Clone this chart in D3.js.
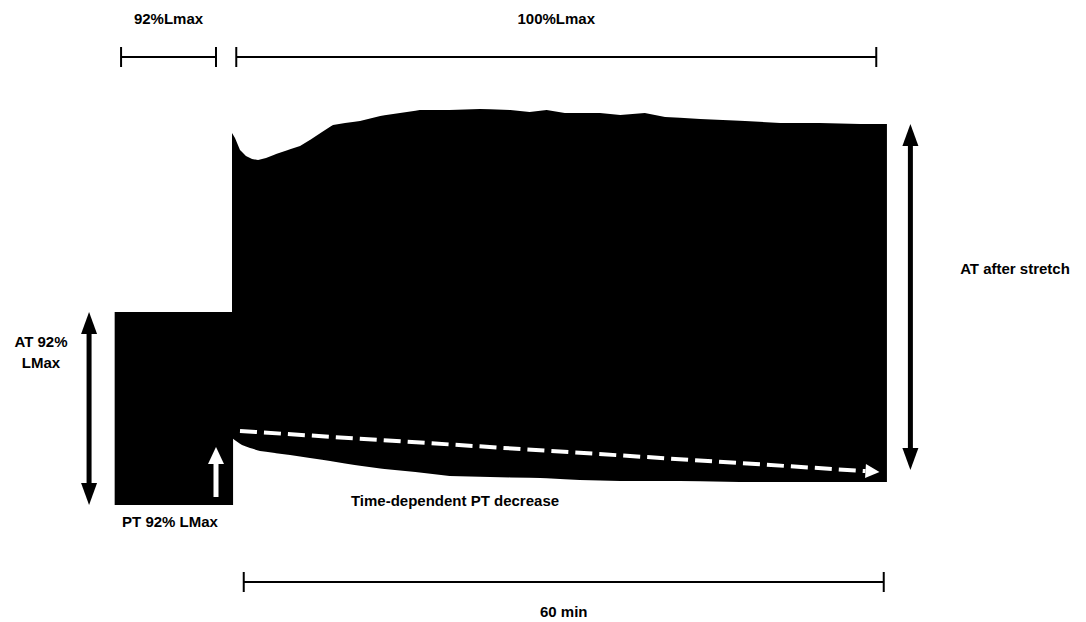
<!DOCTYPE html>
<html>
<head>
<meta charset="utf-8">
<script src="https://cdn.jsdelivr.net/npm/d3@7"></script>
<style>
  html, body { margin: 0; padding: 0; background: #fff; }
  svg text { font-family: "Liberation Sans", Arial, sans-serif; font-weight: bold; fill: #000; }
</style>
</head>
<body>
<svg id="chart" width="1086" height="622"></svg>
<script>
// Force trace: time in minutes (0 = stretch to 100% Lmax), force in mN
const preStretchStart = -11.0;     // start of the 92% Lmax recording
const preStretchAT = 19.3;         // active tension at 92% Lmax
const preStretchPT = 0.0;          // passive tension at 92% Lmax

// Upper envelope (active tension) after the stretch
const topTime  = [0, 0.28, 0.75, 1.31, 1.88, 2.44, 3.19, 4.13, 5.25, 6.38, 7.31, 8.44, 9.47, 10.6, 12.0, 13.9, 15.75, 17.6, 20.4, 23.25, 26.1, 27.9, 29.5, 31.2, 34.5, 36.4, 38.7, 40.6, 43.9, 48.1, 51.4, 55.1, 58.9, 61.4];
const topForce = [37.2, 36.7, 35.5, 34.9, 34.6, 34.5, 34.7, 35.1, 35.5, 35.9, 36.5, 37.3, 38.0, 38.2, 38.4, 38.9, 39.2, 39.5, 39.5, 39.6, 39.5, 39.3, 39.5, 39.2, 39.2, 39.0, 39.2, 38.8, 38.6, 38.4, 38.2, 38.2, 38.1, 38.1];

// Lower envelope (passive tension) after the stretch
const botTime  = [0, 0.38, 0.94, 1.69, 2.63, 4.03, 5.44, 7.3, 9.2, 11.5, 14.3, 17.2, 20.4, 24.2, 28.9, 32.6, 36.4, 42.0, 47.6, 53.3, 61.4];
const botForce = [6.7, 6.4, 6.0, 5.7, 5.4, 5.2, 5.0, 4.7, 4.4, 4.0, 3.6, 3.3, 2.9, 2.8, 2.7, 2.5, 2.4, 2.4, 2.3, 2.3, 2.3];

// Segment markers above the trace and the time bar below it
const segments = [
  { label: "92%Lmax",  from: -10.4, to: -1.5 },
  { label: "100%Lmax", from: 0.4,   to: 60.4 }
];
const timeBar = { label: "60 min", from: 1.1, to: 61.1 };

// PT trend line drawn over the trace
const trendTime  = [0.75, 60.7];
const trendForce = [7.4, 3.3];

const svg = d3.select("#chart");

const x = d3.scaleLinear().domain([0, 60]).range([232, 872]);
const y = d3.scaleLinear().domain([0, 40]).range([505, 105]);

// ---- trace ----
const pre = [
  { t: preStretchStart, lo: preStretchPT, hi: preStretchAT },
  { t: 0.1,             lo: preStretchPT, hi: preStretchAT }
];
svg.append("path")
  .datum(pre)
  .attr("fill", "#000")
  .attr("d", d3.area().x(d => x(d.t)).y0(d => y(d.lo)).y1(d => y(d.hi)));

// merge both envelopes on a common time grid
const grid = Array.from(new Set(topTime.concat(botTime))).sort((a, b) => a - b);
const topAt = t => d3.scaleLinear().domain(topTime).range(topForce)(t);
const botAt = t => d3.scaleLinear().domain(botTime).range(botForce)(t);
const post = grid.map(t => ({ t, lo: botAt(t), hi: topAt(t) }));
svg.append("path")
  .datum(post)
  .attr("fill", "#000")
  .attr("d", d3.area().x(d => x(d.t)).y0(d => y(d.lo)).y1(d => y(d.hi)));

// ---- segment brackets ----
function bracket(x0, x1, yy, h) {
  const g = svg.append("g").attr("stroke", "#000").attr("stroke-width", 2).attr("fill", "none");
  g.append("line").attr("x1", x0).attr("x2", x1).attr("y1", yy).attr("y2", yy);
  g.append("line").attr("x1", x0).attr("x2", x0).attr("y1", yy - h).attr("y2", yy + h);
  g.append("line").attr("x1", x1).attr("x2", x1).attr("y1", yy - h).attr("y2", yy + h);
}
segments.forEach(s => {
  bracket(x(s.from), x(s.to), 57, 10);
  svg.append("text")
    .attr("x", (x(s.from) + x(s.to)) / 2)
    .attr("y", 24)
    .attr("text-anchor", "middle")
    .style("font-size", "15px")
    .text(s.label);
});
bracket(x(timeBar.from), x(timeBar.to), 582, 10);
svg.append("text")
  .attr("x", (x(timeBar.from) + x(timeBar.to)) / 2)
  .attr("y", 617)
  .attr("text-anchor", "middle")
  .style("font-size", "15px")
  .text(timeBar.label);

// ---- double-headed arrows ----
function doubleArrow(xx, yTop, yBot, color) {
  const hw = 8, hl = 22;
  svg.append("line")
    .attr("x1", xx).attr("x2", xx)
    .attr("y1", yTop + hl - 2).attr("y2", yBot - hl + 2)
    .attr("stroke", color).attr("stroke-width", 5);
  svg.append("path").attr("fill", color)
    .attr("d", `M${xx},${yTop} L${xx - hw},${yTop + hl} L${xx + hw},${yTop + hl} Z`);
  svg.append("path").attr("fill", color)
    .attr("d", `M${xx},${yBot} L${xx - hw},${yBot - hl} L${xx + hw},${yBot - hl} Z`);
}
// AT at 92% Lmax spans the pre-stretch block
doubleArrow(x(-13.4), y(preStretchAT), y(preStretchPT), "#000");
// AT after stretch spans the full post-stretch trace
doubleArrow(x(63.6), y(topForce[topForce.length - 1]), y(3.5), "#000");

// ---- white arrow marking PT at 92% Lmax ----
{
  const xx = x(-1.5), yTip = y(5.8), yBase = y(0.8);
  svg.append("line")
    .attr("x1", xx).attr("x2", xx).attr("y1", yTip + 14).attr("y2", yBase)
    .attr("stroke", "#fff").attr("stroke-width", 5);
  svg.append("path").attr("fill", "#fff")
    .attr("d", `M${xx},${yTip} L${xx - 8},${yTip + 17} L${xx + 8},${yTip + 17} Z`);
}

// ---- dashed PT trend arrow ----
{
  const x0 = x(trendTime[0]), y0 = y(trendForce[0]);
  const x1 = x(trendTime[1]), y1 = y(trendForce[1]);
  const ang = Math.atan2(y1 - y0, x1 - x0);
  const hl = 14;
  const xe = x1 - hl * Math.cos(ang), ye = y1 - hl * Math.sin(ang);
  svg.append("line")
    .attr("x1", x0).attr("y1", y0).attr("x2", xe).attr("y2", ye)
    .attr("stroke", "#fff").attr("stroke-width", 4)
    .attr("stroke-dasharray", "17 7");
  const px = -Math.sin(ang) * 7, py = Math.cos(ang) * 7;
  svg.append("path").attr("fill", "#fff")
    .attr("d", `M${x1},${y1} L${xe + px},${ye + py} L${xe - px},${ye - py} Z`);
}

// ---- annotations ----
const notes = [
  { text: ["AT 92%", "LMax"], x: 41, y: 347 },
  { text: ["PT 92% LMax"], x: 170, y: 527 },
  { text: ["Time-dependent PT decrease"], x: 455, y: 506 },
  { text: ["AT after stretch"], x: 1015, y: 274 }
];
notes.forEach(n => {
  const t = svg.append("text")
    .attr("x", n.x).attr("y", n.y)
    .attr("text-anchor", "middle")
    .style("font-size", "15px");
  n.text.forEach((line, i) => {
    t.append("tspan").attr("x", n.x).attr("dy", i === 0 ? 0 : 21).text(line);
  });
});
</script>
</body>
</html>
